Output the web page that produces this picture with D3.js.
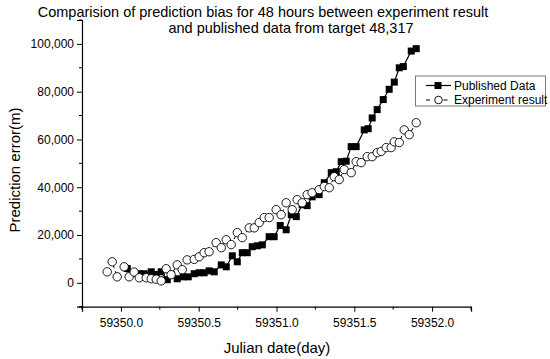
<!DOCTYPE html>
<html>
<head>
<meta charset="utf-8">
<script src="https://cdn.jsdelivr.net/npm/d3@7"></script>
<style>
body { margin: 0; background: #fff; }
text { font-family: "Liberation Sans", Arial, sans-serif; }
</style>
</head>
<body>
<script>
// dados (data juliana, erro em metros)
var pubDays = [59350.041, 59350.085, 59350.118, 59350.150, 59350.195, 59350.227, 59350.259, 59350.298,
  59350.323, 59350.362, 59350.400, 59350.433, 59350.471, 59350.503, 59350.535, 59350.567, 59350.600,
  59350.645, 59350.677, 59350.716, 59350.748, 59350.780, 59350.812, 59350.844, 59350.877, 59350.909,
  59350.953, 59350.985, 59351.024, 59351.062, 59351.095, 59351.127, 59351.165, 59351.197, 59351.229,
  59351.274, 59351.307, 59351.352, 59351.384, 59351.416, 59351.448, 59351.480, 59351.512, 59351.564,
  59351.589, 59351.615, 59351.647, 59351.686, 59351.724, 59351.757, 59351.789, 59351.815, 59351.866,
  59351.898];
var pubErr = [6000, 4200, 3800, 3800, 4600, 3500, 4600, 1300, 3400, 1700, 2500, 2500, 3800, 4200, 4200,
  5000, 4600, 7500, 6700, 11300, 8800, 12600, 12600, 15100, 15500, 15900, 19300, 19300, 24000, 22200,
  28500, 27700, 32700, 32300, 36000, 36900, 41900, 46100, 46500, 50700, 50900, 57000, 57000, 64000,
  64500, 69000, 72500, 76700, 81000, 84000, 90000, 90500, 97000, 98000];

var expDays = [59349.912, 59349.944, 59349.976, 59350.021, 59350.053, 59350.085, 59350.118, 59350.163,
  59350.195, 59350.227, 59350.259, 59350.291, 59350.323, 59350.362, 59350.394, 59350.426, 59350.471,
  59350.503, 59350.535, 59350.567, 59350.612, 59350.645, 59350.677, 59350.709, 59350.748, 59350.780,
  59350.825, 59350.857, 59350.889, 59350.921, 59350.953, 59350.998, 59351.030, 59351.062, 59351.101,
  59351.133, 59351.165, 59351.197, 59351.229, 59351.274, 59351.307, 59351.339, 59351.371, 59351.403,
  59351.435, 59351.480, 59351.512, 59351.544, 59351.583, 59351.615, 59351.647, 59351.673, 59351.705,
  59351.737, 59351.757, 59351.789, 59351.821, 59351.853, 59351.898];
var expErr = [4600, 8800, 2500, 6700, 2500, 4500, 2100, 2100, 1700, 1500, 800, 5900, 3400, 7500, 5500,
  9600, 9800, 10900, 12600, 13000, 16800, 14700, 18000, 16000, 21000, 18900, 23000, 23000, 25200, 27300,
  27300, 30600, 28500, 33500, 30600, 34800, 33500, 36900, 37700, 39000, 40300, 39800, 44400, 43200,
  47400, 46100, 50700, 50300, 52800, 52800, 54500, 55000, 56600, 56600, 59000, 58700, 64000, 62000, 67000];

var xTicks = [59350.0, 59350.5, 59351.0, 59351.5, 59352.0];
var yTicks = [0, 20000, 40000, 60000, 80000, 100000];
var legendNames = ["Published Data", "Experiment result"];

var width = 550, height = 359;
var svg = d3.select("body").append("svg")
  .attr("width", width)
  .attr("height", height);

var x = d3.scaleLinear().domain([59349.75, 59352.25]).range([82, 471]);
var y = d3.scaleLinear().domain([-10000, 110000]).range([306.7, 20]);

// titulo
var titulo = ["Comparision of prediction bias for 48 hours between experiment result",
  "and published data from target 48,317"];
svg.append("text").attr("x", 263).attr("y", 17).attr("text-anchor", "middle")
  .attr("font-size", 14.5).text(titulo[0]);
svg.append("text").attr("x", 291).attr("y", 33).attr("text-anchor", "middle")
  .attr("font-size", 14.5).text(titulo[1]);

// ticks menores
var xMinor = d3.range(59349.75, 59352.26, 0.25).filter(d => xTicks.indexOf(+d.toFixed(2)) < 0);
var yMinor = d3.range(-10000, 110001, 20000);

var gx = svg.append("g").attr("transform", "translate(0," + y.range()[0] + ")");
gx.call(d3.axisBottom(x).tickValues(xTicks).tickFormat(d3.format(".1f")).tickSize(5).tickSizeOuter(5));
gx.append("g").selectAll("line").data(xMinor).join("line")
  .attr("x1", d => x(d)).attr("x2", d => x(d)).attr("y1", 0).attr("y2", 3).attr("stroke", "#000");

var gy = svg.append("g").attr("transform", "translate(" + x.range()[0] + ",0)");
gy.call(d3.axisLeft(y).tickValues(yTicks).tickFormat(d3.format(",")).tickSize(5).tickSizeOuter(5));
gy.append("g").selectAll("line").data(yMinor).join("line")
  .attr("y1", d => y(d)).attr("y2", d => y(d)).attr("x1", 0).attr("x2", -3).attr("stroke", "#000");

svg.selectAll(".tick text").attr("font-size", 12).attr("font-family", "Liberation Sans, Arial, sans-serif");
gx.selectAll(".tick text").attr("dy", "1.05em");
svg.selectAll(".domain").attr("stroke-width", 1.2);

// rotulos dos eixos
svg.append("text").attr("x", 277).attr("y", 353).attr("text-anchor", "middle")
  .attr("font-size", 15).text("Julian date(day)");
svg.append("text").attr("transform", "translate(20,170) rotate(-90)").attr("text-anchor", "middle")
  .attr("font-size", 15).text("Prediction error(m)");

// series
var pub = pubDays.map((d, i) => [d, pubErr[i]]);
var exp = expDays.map((d, i) => [d, expErr[i]]);
var linha = d3.line().x(d => x(d[0])).y(d => y(d[1]));

svg.append("path").datum(exp).attr("d", linha).attr("fill", "none")
  .attr("stroke", "#000").attr("stroke-width", 1).attr("stroke-dasharray", "4,3");
svg.append("path").datum(pub).attr("d", linha).attr("fill", "none")
  .attr("stroke", "#000").attr("stroke-width", 1.2);

svg.append("g").selectAll("rect").data(pub).join("rect")
  .attr("x", d => x(d[0]) - 3.5).attr("y", d => y(d[1]) - 3.5)
  .attr("width", 7).attr("height", 7).attr("fill", "#000");

svg.append("g").selectAll("circle").data(exp).join("circle")
  .attr("cx", d => x(d[0])).attr("cy", d => y(d[1])).attr("r", 4.2)
  .attr("fill", "#fff").attr("stroke", "#000").attr("stroke-width", 0.9);

// legenda
var leg = svg.append("g");
leg.append("rect").attr("x", 415.5).attr("y", 76).attr("width", 130).attr("height", 30)
  .attr("fill", "#fff").attr("stroke", "#777");
leg.append("line").attr("x1", 426).attr("x2", 451).attr("y1", 85.5).attr("y2", 85.5).attr("stroke", "#000").attr("stroke-width", 1.2);
leg.append("rect").attr("x", 434.5).attr("y", 82).attr("width", 7).attr("height", 7).attr("fill", "#000");
leg.append("line").attr("x1", 426).attr("x2", 451).attr("y1", 100).attr("y2", 100).attr("stroke", "#000")
  .attr("stroke-dasharray", "4,13.5");
leg.append("circle").attr("cx", 438.5).attr("cy", 100).attr("r", 3.8).attr("fill", "#fff").attr("stroke", "#000").attr("stroke-width", 0.9);
leg.selectAll("text.nome").data(legendNames).join("text").attr("class", "nome")
  .attr("x", 454).attr("y", (d, i) => 89.5 + i * 14.5).attr("font-size", 12).text(d => d);
</script>
</body>
</html>
